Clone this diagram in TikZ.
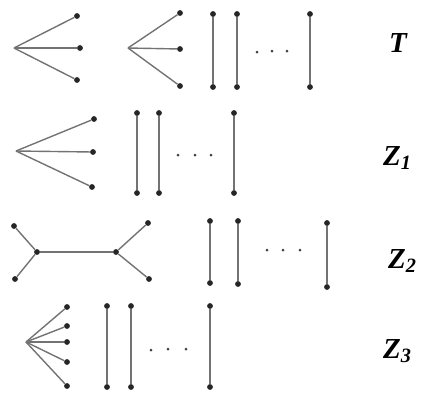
\documentclass[tikz,border=0pt]{standalone}
\usepackage{fontspec}
\setmainfont{Liberation Serif}
\usepackage{tikz}

\begin{document}
\begin{tikzpicture}[x=1pt, y=-1pt,
  vtx/.style={circle, fill=black!85, inner sep=0pt, minimum size=5.8pt},
  edge/.style={draw=black!55, line width=1.4pt},
  ddot/.style={circle, fill=black!75, inner sep=0pt, minimum size=3pt},
  lbl/.style={inner sep=0pt, anchor=base west,
    font=\fontsize{29}{33}\selectfont\bfseries\itshape},
]
\useasboundingbox (0,0) rectangle (422,392);

% row T
\coordinate (Ta) at (14,48);
\node[vtx] (Ta1) at (77,16) {};
\node[vtx] (Ta2) at (80,48) {};
\node[vtx] (Ta3) at (77,80) {};
\draw[edge] (Ta) -- (Ta1);
\draw[edge] (Ta) -- (Ta2);
\draw[edge] (Ta) -- (Ta3);
\coordinate (Tb) at (128,48);
\node[vtx] (Tb1) at (180,13) {};
\node[vtx] (Tb2) at (180,49) {};
\node[vtx] (Tb3) at (180,86) {};
\draw[edge] (Tb) -- (Tb1);
\draw[edge] (Tb) -- (Tb2);
\draw[edge] (Tb) -- (Tb3);
\foreach \i/\x in {1/213, 2/237, 3/310} {
  \node[vtx] (Tu\i) at (\x,14) {};
  \node[vtx] (Td\i) at (\x,87) {};
  \draw[edge] (Tu\i) -- (Td\i);
}
\node[ddot] (Tc1) at (257,52) {};
\node[ddot] (Tc2) at (272,51) {};
\node[ddot] (Tc3) at (287,51) {};
\node[lbl] (T) at (389,52) {T};

% row Z1
\coordinate (Aa) at (16,151);
\node[vtx] (Aa1) at (94,119) {};
\node[vtx] (Aa2) at (93,152) {};
\node[vtx] (Aa3) at (92,187) {};
\draw[edge] (Aa) -- (Aa1);
\draw[edge] (Aa) -- (Aa2);
\draw[edge] (Aa) -- (Aa3);
\foreach \i/\x in {1/137, 2/159, 3/234} {
  \node[vtx] (Au\i) at (\x,113) {};
  \node[vtx] (Ad\i) at (\x,193) {};
  \draw[edge] (Au\i) -- (Ad\i);
}
\node[ddot] (Ac1) at (178,155) {};
\node[ddot] (Ac2) at (195,155) {};
\node[ddot] (Ac3) at (211,155) {};
\node[lbl] (Z1) at (383,165) {Z\textsubscript{1}};

% row Z2
\node[vtx] (Bl) at (37,252) {};
\node[vtx] (Br) at (116,252) {};
\node[vtx] (Bl1) at (14,226) {};
\node[vtx] (Bl2) at (15,279) {};
\node[vtx] (Br1) at (148,223) {};
\node[vtx] (Br2) at (149,279) {};
\draw[edge] (Bl) -- (Br);
\draw[edge] (Bl) -- (Bl1);
\draw[edge] (Bl) -- (Bl2);
\draw[edge] (Br) -- (Br1);
\draw[edge] (Br) -- (Br2);
\foreach \i/\x/\t/\b in {1/210/221/283, 2/238/221/284, 3/327/223/287} {
  \node[vtx] (Bu\i) at (\x,\t) {};
  \node[vtx] (Bd\i) at (\x,\b) {};
  \draw[edge] (Bu\i) -- (Bd\i);
}
\node[ddot] (Bc1) at (267,250) {};
\node[ddot] (Bc2) at (283,250) {};
\node[ddot] (Bc3) at (300,250) {};
\node[lbl] (Z2) at (388,268) {Z\textsubscript{2}};

% row Z3
\coordinate (Ca) at (26,342);
\foreach \i/\y in {1/307, 2/326, 3/342, 4/362, 5/386} {
  \node[vtx] (Ca\i) at (67,\y) {};
  \draw[edge] (Ca) -- (Ca\i);
}
\foreach \i/\x in {1/107, 2/131, 3/210} {
  \node[vtx] (Cu\i) at (\x,306) {};
  \node[vtx] (Cd\i) at (\x,387) {};
  \draw[edge] (Cu\i) -- (Cd\i);
}
\node[ddot] (Cc1) at (151,350) {};
\node[ddot] (Cc2) at (168,349) {};
\node[ddot] (Cc3) at (186,349) {};
\node[lbl] (Z3) at (383,358) {Z\textsubscript{3}};
\end{tikzpicture}
\end{document}
